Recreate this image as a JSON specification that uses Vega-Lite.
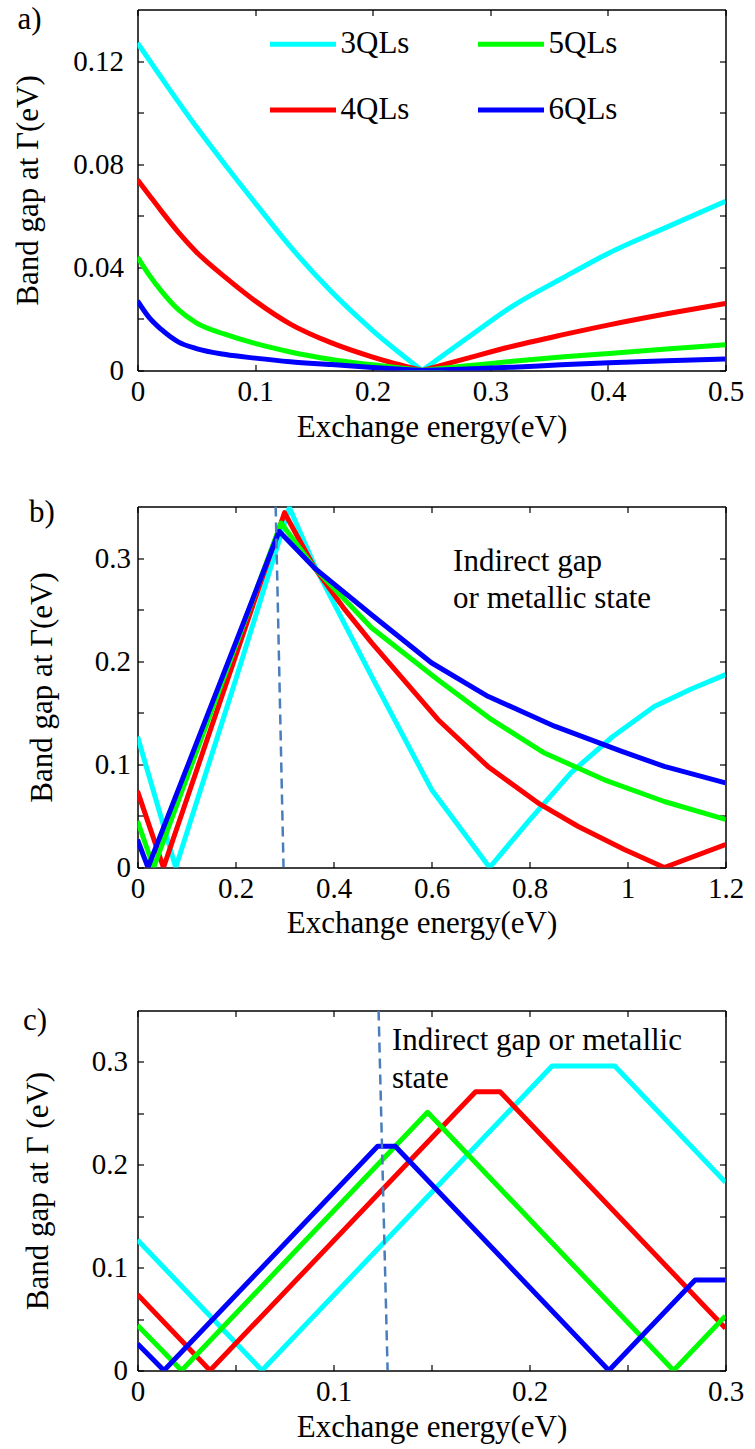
{
  "$schema": "https://vega.github.io/schema/vega-lite/v6.json",
  "background": "white",
  "padding": {"left": 12.5, "top": 3.5, "right": 5, "bottom": 5},
  "config": {
    "font": "Liberation Serif, Times New Roman, Tinos, DejaVu Serif, serif",
    "view": {"stroke": null},
    "axis": {
      "domainColor": "black", "domainWidth": 1.5,
      "tickColor": "black", "tickWidth": 1.2, "tickSize": -6, "minExtent": 0,
      "labelFont": "Liberation Serif, Times New Roman, Tinos, DejaVu Serif, serif", "labelFontSize": 29, "labelColor": "black",
      "titleFont": "Liberation Serif, Times New Roman, Tinos, DejaVu Serif, serif", "titleFontSize": 31, "titleFontWeight": "normal", "titleColor": "black",
      "grid": false, "labelFlush": false, "labelOverlap": false
    },
    "text": {"font": "Liberation Serif, Times New Roman, Tinos, DejaVu Serif, serif", "fontSize": 31, "color": "black"}
  },
  "datasets": {
    "a": [
      {"E": 0, "gap": 0.127, "s": "3QLs", "b": "L"}, {"E": 0.025, "gap": 0.1105, "s": "3QLs", "b": "L"}, {"E": 0.05, "gap": 0.0945, "s": "3QLs", "b": "L"}, {"E": 0.075, "gap": 0.0795, "s": "3QLs", "b": "L"}, {"E": 0.1, "gap": 0.065, "s": "3QLs", "b": "L"}, {"E": 0.13, "gap": 0.048, "s": "3QLs", "b": "L"}, {"E": 0.165, "gap": 0.0305, "s": "3QLs", "b": "L"}, {"E": 0.2, "gap": 0.0155, "s": "3QLs", "b": "L"}, {"E": 0.242, "gap": 0, "s": "3QLs", "b": "L"},
      {"E": 0.242, "gap": 0, "s": "3QLs", "b": "R"}, {"E": 0.28, "gap": 0.0125, "s": "3QLs", "b": "R"}, {"E": 0.319, "gap": 0.025, "s": "3QLs", "b": "R"}, {"E": 0.36, "gap": 0.0355, "s": "3QLs", "b": "R"}, {"E": 0.401, "gap": 0.0456, "s": "3QLs", "b": "R"}, {"E": 0.452, "gap": 0.056, "s": "3QLs", "b": "R"}, {"E": 0.5, "gap": 0.0656, "s": "3QLs", "b": "R"},
      {"E": 0, "gap": 0.074, "s": "4QLs", "b": "L"}, {"E": 0.01, "gap": 0.068, "s": "4QLs", "b": "L"}, {"E": 0.02, "gap": 0.062, "s": "4QLs", "b": "L"}, {"E": 0.035, "gap": 0.0535, "s": "4QLs", "b": "L"}, {"E": 0.05, "gap": 0.046, "s": "4QLs", "b": "L"}, {"E": 0.075, "gap": 0.036, "s": "4QLs", "b": "L"}, {"E": 0.1, "gap": 0.027, "s": "4QLs", "b": "L"}, {"E": 0.13, "gap": 0.018, "s": "4QLs", "b": "L"}, {"E": 0.165, "gap": 0.0107, "s": "4QLs", "b": "L"}, {"E": 0.2, "gap": 0.0052, "s": "4QLs", "b": "L"}, {"E": 0.242, "gap": 0, "s": "4QLs", "b": "L"},
      {"E": 0.242, "gap": 0, "s": "4QLs", "b": "R"}, {"E": 0.28, "gap": 0.0047, "s": "4QLs", "b": "R"}, {"E": 0.319, "gap": 0.0094, "s": "4QLs", "b": "R"}, {"E": 0.36, "gap": 0.0137, "s": "4QLs", "b": "R"}, {"E": 0.401, "gap": 0.0177, "s": "4QLs", "b": "R"}, {"E": 0.45, "gap": 0.022, "s": "4QLs", "b": "R"}, {"E": 0.5, "gap": 0.026, "s": "4QLs", "b": "R"},
      {"E": 0, "gap": 0.044, "s": "5QLs", "b": "L"}, {"E": 0.01, "gap": 0.037, "s": "5QLs", "b": "L"}, {"E": 0.02, "gap": 0.031, "s": "5QLs", "b": "L"}, {"E": 0.035, "gap": 0.0235, "s": "5QLs", "b": "L"}, {"E": 0.05, "gap": 0.0185, "s": "5QLs", "b": "L"}, {"E": 0.075, "gap": 0.014, "s": "5QLs", "b": "L"}, {"E": 0.1, "gap": 0.0105, "s": "5QLs", "b": "L"}, {"E": 0.13, "gap": 0.0072, "s": "5QLs", "b": "L"}, {"E": 0.165, "gap": 0.0043, "s": "5QLs", "b": "L"}, {"E": 0.2, "gap": 0.0022, "s": "5QLs", "b": "L"}, {"E": 0.242, "gap": 0, "s": "5QLs", "b": "L"},
      {"E": 0.242, "gap": 0, "s": "5QLs", "b": "R"}, {"E": 0.28, "gap": 0.0018, "s": "5QLs", "b": "R"}, {"E": 0.319, "gap": 0.0036, "s": "5QLs", "b": "R"}, {"E": 0.36, "gap": 0.0052, "s": "5QLs", "b": "R"}, {"E": 0.401, "gap": 0.0066, "s": "5QLs", "b": "R"}, {"E": 0.45, "gap": 0.0083, "s": "5QLs", "b": "R"}, {"E": 0.5, "gap": 0.01, "s": "5QLs", "b": "R"},
      {"E": 0, "gap": 0.027, "s": "6QLs", "b": "L"}, {"E": 0.01, "gap": 0.0205, "s": "6QLs", "b": "L"}, {"E": 0.02, "gap": 0.016, "s": "6QLs", "b": "L"}, {"E": 0.035, "gap": 0.011, "s": "6QLs", "b": "L"}, {"E": 0.05, "gap": 0.0085, "s": "6QLs", "b": "L"}, {"E": 0.075, "gap": 0.0062, "s": "6QLs", "b": "L"}, {"E": 0.1, "gap": 0.0048, "s": "6QLs", "b": "L"}, {"E": 0.13, "gap": 0.0034, "s": "6QLs", "b": "L"}, {"E": 0.165, "gap": 0.0023, "s": "6QLs", "b": "L"}, {"E": 0.2, "gap": 0.0012, "s": "6QLs", "b": "L"}, {"E": 0.242, "gap": 0, "s": "6QLs", "b": "L"},
      {"E": 0.242, "gap": 0, "s": "6QLs", "b": "R"}, {"E": 0.28, "gap": 0.0006, "s": "6QLs", "b": "R"}, {"E": 0.319, "gap": 0.0013, "s": "6QLs", "b": "R"}, {"E": 0.36, "gap": 0.0022, "s": "6QLs", "b": "R"}, {"E": 0.401, "gap": 0.003, "s": "6QLs", "b": "R"}, {"E": 0.45, "gap": 0.0038, "s": "6QLs", "b": "R"}, {"E": 0.5, "gap": 0.0045, "s": "6QLs", "b": "R"}
    ],
    "b": [
      {"E": 0, "gap": 0.127, "s": "3QLs"}, {"E": 0.078, "gap": 0, "s": "3QLs"}, {"E": 0.199, "gap": 0.18, "s": "3QLs"}, {"E": 0.31, "gap": 0.349, "s": "3QLs"}, {"E": 0.362, "gap": 0.292, "s": "3QLs"}, {"E": 0.4776, "gap": 0.1856, "s": "3QLs"}, {"E": 0.6, "gap": 0.0757, "s": "3QLs"}, {"E": 0.7186, "gap": 0, "s": "3QLs"}, {"E": 0.8, "gap": 0.046, "s": "3QLs"}, {"E": 0.885, "gap": 0.092, "s": "3QLs"}, {"E": 0.97, "gap": 0.127, "s": "3QLs"}, {"E": 1.0546, "gap": 0.156, "s": "3QLs"}, {"E": 1.13, "gap": 0.173, "s": "3QLs"}, {"E": 1.2, "gap": 0.187, "s": "3QLs"},
      {"E": 0, "gap": 0.074, "s": "4QLs"}, {"E": 0.053, "gap": 0, "s": "4QLs"}, {"E": 0.3, "gap": 0.344, "s": "4QLs"}, {"E": 0.362, "gap": 0.29, "s": "4QLs"}, {"E": 0.42, "gap": 0.252, "s": "4QLs"}, {"E": 0.4776, "gap": 0.218, "s": "4QLs"}, {"E": 0.613, "gap": 0.1435, "s": "4QLs"}, {"E": 0.715, "gap": 0.098, "s": "4QLs"}, {"E": 0.817, "gap": 0.0627, "s": "4QLs"}, {"E": 0.8986, "gap": 0.04, "s": "4QLs"}, {"E": 0.9935, "gap": 0.0175, "s": "4QLs"}, {"E": 1.075, "gap": 0, "s": "4QLs"}, {"E": 1.2, "gap": 0.0223, "s": "4QLs"},
      {"E": 0, "gap": 0.045, "s": "5QLs"}, {"E": 0.033, "gap": 0, "s": "5QLs"}, {"E": 0.293, "gap": 0.334, "s": "5QLs"}, {"E": 0.362, "gap": 0.29, "s": "5QLs"}, {"E": 0.4776, "gap": 0.2325, "s": "5QLs"}, {"E": 0.613, "gap": 0.182, "s": "5QLs"}, {"E": 0.722, "gap": 0.1435, "s": "5QLs"}, {"E": 0.8306, "gap": 0.111, "s": "5QLs"}, {"E": 0.9527, "gap": 0.085, "s": "5QLs"}, {"E": 1.075, "gap": 0.064, "s": "5QLs"}, {"E": 1.2, "gap": 0.0466, "s": "5QLs"},
      {"E": 0, "gap": 0.027, "s": "6QLs"}, {"E": 0.0214, "gap": 0, "s": "6QLs"}, {"E": 0.289, "gap": 0.326, "s": "6QLs"}, {"E": 0.362, "gap": 0.29, "s": "6QLs"}, {"E": 0.4776, "gap": 0.245, "s": "6QLs"}, {"E": 0.5998, "gap": 0.1985, "s": "6QLs"}, {"E": 0.715, "gap": 0.166, "s": "6QLs"}, {"E": 0.851, "gap": 0.137, "s": "6QLs"}, {"E": 0.987, "gap": 0.1128, "s": "6QLs"}, {"E": 1.075, "gap": 0.098, "s": "6QLs"}, {"E": 1.2, "gap": 0.082, "s": "6QLs"}
    ],
    "c": [
      {"E": 0, "gap": 0.127, "s": "3QLs"}, {"E": 0.0635, "gap": 0, "s": "3QLs"}, {"E": 0.2115, "gap": 0.296, "s": "3QLs"}, {"E": 0.2435, "gap": 0.296, "s": "3QLs"}, {"E": 0.3, "gap": 0.183, "s": "3QLs"},
      {"E": 0, "gap": 0.074, "s": "4QLs"}, {"E": 0.037, "gap": 0, "s": "4QLs"}, {"E": 0.1725, "gap": 0.271, "s": "4QLs"}, {"E": 0.185, "gap": 0.271, "s": "4QLs"}, {"E": 0.3, "gap": 0.041, "s": "4QLs"},
      {"E": 0, "gap": 0.044, "s": "5QLs"}, {"E": 0.0225, "gap": 0, "s": "5QLs"}, {"E": 0.148, "gap": 0.251, "s": "5QLs"}, {"E": 0.2735, "gap": 0, "s": "5QLs"}, {"E": 0.3, "gap": 0.053, "s": "5QLs"},
      {"E": 0, "gap": 0.026, "s": "6QLs"}, {"E": 0.0135, "gap": 0, "s": "6QLs"}, {"E": 0.1225, "gap": 0.218, "s": "6QLs"}, {"E": 0.1315, "gap": 0.218, "s": "6QLs"}, {"E": 0.2405, "gap": 0, "s": "6QLs"}, {"E": 0.2845, "gap": 0.088, "s": "6QLs"}, {"E": 0.3, "gap": 0.088, "s": "6QLs"}
    ],
    "dashB": [{"E": 0.282, "gap": 0.35}, {"E": 0.298, "gap": 0}],
    "dashC": [{"E": 0.123, "gap": 0.35}, {"E": 0.1276, "gap": 0}],
    "textA": [{"E": -0.102, "gap": 0.1325, "label": "a)"}],
    "textB": [{"E": 0.644, "gap": 0.287, "label": "Indirect gap"}, {"E": 0.644, "gap": 0.252, "label": "or metallic state"}, {"E": -0.2214, "gap": 0.3345, "label": "b)"}],
    "textC": [{"E": 0.1298, "gap": 0.3117, "label": "Indirect gap or metallic"}, {"E": 0.1298, "gap": 0.2748, "label": "state"}, {"E": -0.0584, "gap": 0.331, "label": "c)"}]
  },
  "bounds": "flush",
  "spacing": 136,
  "resolve": {"scale": {"color": "independent"}, "legend": {"color": "independent"}},
  "vconcat": [
    {
      "width": 588, "height": 361,
      "resolve": {"axis": {"x": "independent", "y": "independent"}},
      "layer": [
        {
          "data": {"name": "a"},
          "mark": {"type": "line", "strokeWidth": 5, "clip": true, "strokeJoin": "round", "interpolate": "monotone"},
          "encoding": {
            "x": {"field": "E", "type": "quantitative", "scale": {"domain": [0, 0.5], "nice": false, "zero": false},
              "axis": {"orient": "bottom", "values": [0, 0.1, 0.2, 0.3, 0.4, 0.5], "labelExpr": "format(datum.value, '~g')", "labelPadding": 13, "labelDx": 5, "title": "Exchange energy(eV)", "titlePadding": 6}},
            "y": {"field": "gap", "type": "quantitative", "scale": {"domain": [0, 0.14], "nice": false},
              "axis": {"orient": "left", "values": [0, 0.02, 0.04, 0.06, 0.08, 0.1, 0.12], "labelExpr": "round(datum.value*100) % 4 == 0 ? format(datum.value, '~g') : ''", "labelPadding": 20, "title": "Band gap at Γ(eV)", "titlePadding": 28}},
            "color": {"field": "s", "type": "nominal",
              "scale": {"domain": ["3QLs", "4QLs", "5QLs", "6QLs"], "range": ["#00FFFF", "#FF0000", "#00FF00", "#0000FF"]},
              "legend": {"orient": "none", "legendX": 130, "legendY": -1, "columns": 2, "title": null, "symbolType": "stroke", "symbolSize": 4356, "symbolStrokeWidth": 5, "labelFontSize": 31, "labelFont": "Liberation Serif, Times New Roman, Tinos, DejaVu Serif, serif", "labelColor": "black", "labelOffset": 2, "columnPadding": 58, "rowPadding": 15, "padding": 0, "labelLimit": 300}},
            "detail": {"field": "b", "type": "nominal"}
          }
        },
        {
          "data": {"name": "a"},
          "mark": {"type": "line", "opacity": 0},
          "encoding": {
            "x": {"field": "E", "type": "quantitative", "scale": {"domain": [0, 0.5], "nice": false, "zero": false},
              "axis": {"orient": "top", "values": [0, 0.1, 0.2, 0.3, 0.4, 0.5], "labels": false, "title": null}},
            "y": {"field": "gap", "type": "quantitative", "scale": {"domain": [0, 0.14], "nice": false},
              "axis": {"orient": "right", "values": [0, 0.02, 0.04, 0.06, 0.08, 0.1, 0.12], "labels": false, "title": null}}
          }
        },
        {
          "data": {"name": "textA"},
          "mark": {"type": "text", "align": "left", "baseline": "alphabetic"},
          "encoding": {
            "x": {"field": "E", "type": "quantitative", "scale": {"domain": [0, 0.5], "nice": false, "zero": false}, "axis": null},
            "y": {"field": "gap", "type": "quantitative", "scale": {"domain": [0, 0.14], "nice": false}, "axis": null},
            "text": {"field": "label"}
          }
        }
      ]
    },
    {
      "bounds": "flush",
      "spacing": 143,
      "resolve": {"scale": {"color": "independent"}, "legend": {"color": "independent"}},
      "vconcat": [
        {
          "width": 588, "height": 361,
          "resolve": {"axis": {"x": "independent", "y": "independent"}},
          "layer": [
            {
              "data": {"name": "b"},
              "mark": {"type": "line", "strokeWidth": 5, "clip": true, "strokeJoin": "round"},
              "encoding": {
                "x": {"field": "E", "type": "quantitative", "scale": {"domain": [0, 1.2], "nice": false, "zero": false},
                  "axis": {"orient": "bottom", "values": [0, 0.2, 0.4, 0.6, 0.8, 1, 1.2], "labelExpr": "format(datum.value, '~g')", "labelPadding": 13, "labelDx": 5, "title": "Exchange energy(eV)", "titlePadding": 5, "titleX": 284}},
                "y": {"field": "gap", "type": "quantitative", "scale": {"domain": [0, 0.35], "nice": false},
                  "axis": {"orient": "left", "values": [0, 0.05, 0.1, 0.15, 0.2, 0.25, 0.3], "labelExpr": "round(datum.value*100) % 10 == 0 ? format(datum.value, '~g') : ''", "labelPadding": 13, "title": "Band gap at Γ(eV)", "titlePadding": 36}},
                "color": {"field": "s", "type": "nominal",
                  "scale": {"domain": ["3QLs", "4QLs", "5QLs", "6QLs"], "range": ["#00FFFF", "#FF0000", "#00FF00", "#0000FF"]},
                  "legend": null}
              }
            },
            {
              "data": {"name": "b"},
              "mark": {"type": "line", "opacity": 0},
              "encoding": {
                "x": {"field": "E", "type": "quantitative", "scale": {"domain": [0, 1.2], "nice": false, "zero": false},
                  "axis": {"orient": "top", "values": [0, 0.2, 0.4, 0.6, 0.8, 1, 1.2], "labels": false, "title": null}},
                "y": {"field": "gap", "type": "quantitative", "scale": {"domain": [0, 0.35], "nice": false},
                  "axis": {"orient": "right", "values": [0, 0.05, 0.1, 0.15, 0.2, 0.25, 0.3], "labels": false, "title": null}}
              }
            },
            {
              "data": {"name": "dashB"},
              "mark": {"type": "line", "color": "#4A7DBA", "strokeWidth": 2.5, "strokeDash": [10, 6], "clip": true},
              "encoding": {
                "x": {"field": "E", "type": "quantitative", "scale": {"domain": [0, 1.2], "nice": false, "zero": false}, "axis": null},
                "y": {"field": "gap", "type": "quantitative", "scale": {"domain": [0, 0.35], "nice": false}, "axis": null}
              }
            },
            {
              "data": {"name": "textB"},
              "mark": {"type": "text", "align": "left", "baseline": "alphabetic"},
              "encoding": {
                "x": {"field": "E", "type": "quantitative", "scale": {"domain": [0, 1.2], "nice": false, "zero": false}, "axis": null},
                "y": {"field": "gap", "type": "quantitative", "scale": {"domain": [0, 0.35], "nice": false}, "axis": null},
                "text": {"field": "label"}
              }
            }
          ]
        },
        {
          "width": 588, "height": 360,
          "resolve": {"axis": {"x": "independent", "y": "independent"}},
          "layer": [
            {
              "data": {"name": "c"},
              "mark": {"type": "line", "strokeWidth": 5, "clip": true, "strokeJoin": "round"},
              "encoding": {
                "x": {"field": "E", "type": "quantitative", "scale": {"domain": [0, 0.3], "nice": false, "zero": false},
                  "axis": {"orient": "bottom", "values": [0, 0.05, 0.1, 0.15, 0.2, 0.25, 0.3], "labelExpr": "round(datum.value*100) % 10 == 0 ? format(datum.value, '~g') : ''", "labelPadding": 13, "labelDx": 5, "title": "Exchange energy(eV)", "titlePadding": 6}},
                "y": {"field": "gap", "type": "quantitative", "scale": {"domain": [0, 0.35], "nice": false},
                  "axis": {"orient": "left", "values": [0, 0.05, 0.1, 0.15, 0.2, 0.25, 0.3], "labelExpr": "round(datum.value*100) % 10 == 0 ? format(datum.value, '~g') : ''", "labelPadding": 16, "title": "Band gap at Γ (eV)", "titlePadding": 37}},
                "color": {"field": "s", "type": "nominal",
                  "scale": {"domain": ["3QLs", "4QLs", "5QLs", "6QLs"], "range": ["#00FFFF", "#FF0000", "#00FF00", "#0000FF"]},
                  "legend": null}
              }
            },
            {
              "data": {"name": "c"},
              "mark": {"type": "line", "opacity": 0},
              "encoding": {
                "x": {"field": "E", "type": "quantitative", "scale": {"domain": [0, 0.3], "nice": false, "zero": false},
                  "axis": {"orient": "top", "values": [0, 0.05, 0.1, 0.15, 0.2, 0.25, 0.3], "labels": false, "title": null}},
                "y": {"field": "gap", "type": "quantitative", "scale": {"domain": [0, 0.35], "nice": false},
                  "axis": {"orient": "right", "values": [0, 0.05, 0.1, 0.15, 0.2, 0.25, 0.3], "labels": false, "title": null}}
              }
            },
            {
              "data": {"name": "dashC"},
              "mark": {"type": "line", "color": "#4A7DBA", "strokeWidth": 2.5, "strokeDash": [10, 6], "clip": true},
              "encoding": {
                "x": {"field": "E", "type": "quantitative", "scale": {"domain": [0, 0.3], "nice": false, "zero": false}, "axis": null},
                "y": {"field": "gap", "type": "quantitative", "scale": {"domain": [0, 0.35], "nice": false}, "axis": null}
              }
            },
            {
              "data": {"name": "textC"},
              "mark": {"type": "text", "align": "left", "baseline": "alphabetic"},
              "encoding": {
                "x": {"field": "E", "type": "quantitative", "scale": {"domain": [0, 0.3], "nice": false, "zero": false}, "axis": null},
                "y": {"field": "gap", "type": "quantitative", "scale": {"domain": [0, 0.35], "nice": false}, "axis": null},
                "text": {"field": "label"}
              }
            }
          ]
        }
      ]
    }
  ]
}
